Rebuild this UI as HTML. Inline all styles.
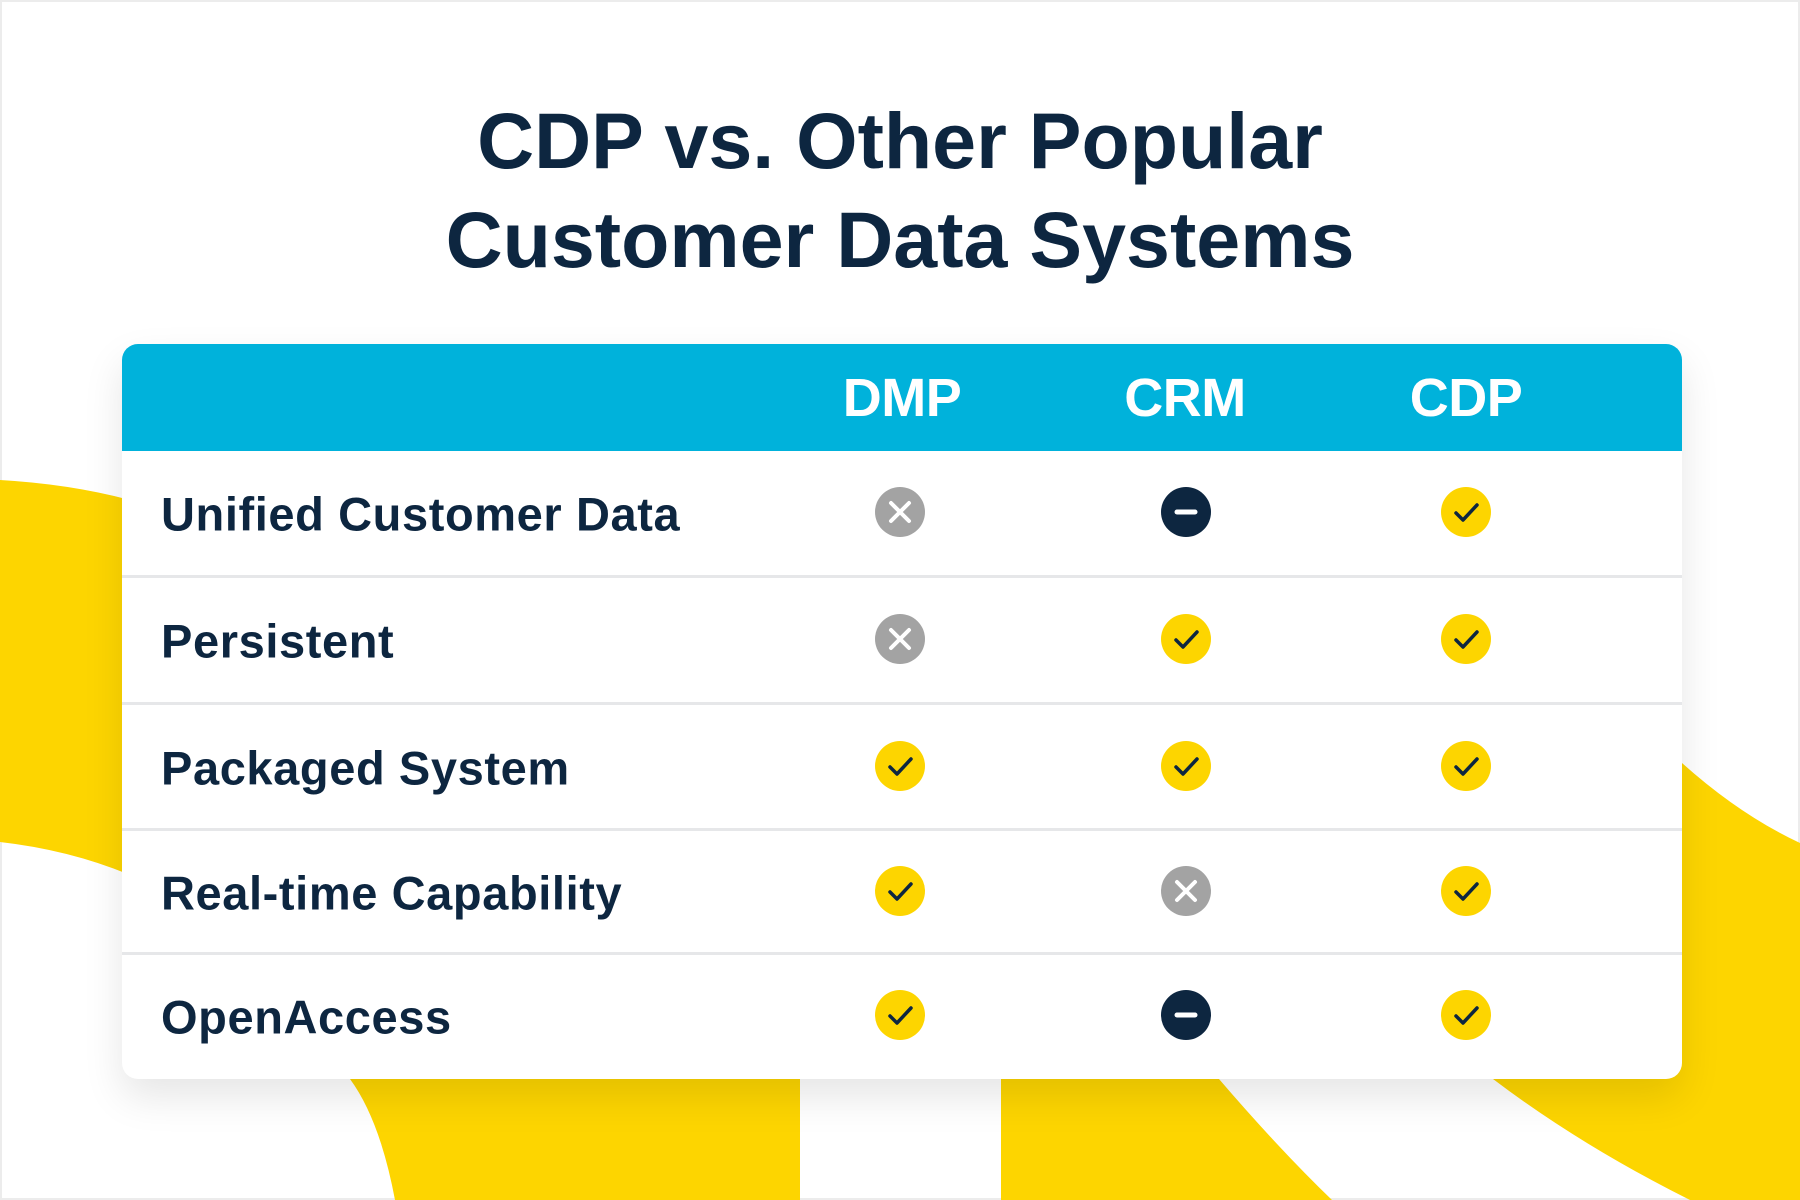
<!DOCTYPE html>
<html><head><meta charset="utf-8"><style>
html,body{margin:0;padding:0}
body{width:1800px;height:1200px;position:relative;overflow:hidden;background:#fff;font-family:"Liberation Sans",sans-serif;color:#0d2640}
.frame{position:absolute;left:0;top:0;width:1796px;height:1196px;border:2px solid #ececec}
.title{position:absolute;left:0;width:1800px;text-align:center;font-weight:bold;font-size:79px;letter-spacing:0px;line-height:1}
.card{position:absolute;left:122px;top:344px;width:1560px;height:735px;background:#fff;border-radius:16px;box-shadow:0 18px 40px rgba(0,0,0,0.10);overflow:hidden}
.head{position:absolute;left:0;top:0;width:1560px;height:107px;background:#00b2db}
.h{position:absolute;top:54px;transform:translate(-50%,-50%);color:#fff;font-size:54px;font-weight:bold;letter-spacing:-0.5px}
.sep{position:absolute;left:0;width:1560px;height:3px;background:#e6e7e9}
.lab{position:absolute;left:39px;transform:translateY(-50%);font-size:47px;font-weight:bold;letter-spacing:0.6px}
svg{display:block}
</style></head><body>
<div class="frame"></div>
<svg width="1800" height="1200" style="position:absolute;left:0;top:0">
<g fill="#fdd500">
<path d="M0 480 Q70 484 130 500 L130 875 Q70 850 0 842 Z"/>
<path d="M330 1060 L800 1060 L800 1200 L395 1200 Q380 1120 350 1079 Z"/>
<path d="M1001 1060 L1205 1060 L1219 1079 Q1280 1150 1332 1200 L1001 1200 Z"/>
<path d="M1682 763 Q1740 815 1800 843 L1800 1200 L1690 1200 Q1580 1145 1493 1079 L1493 1060 L1682 1060 Z"/>
</g>
</svg>
<div class="title" style="top:101px">CDP vs. Other Popular</div>
<div class="title" style="top:200px">Customer Data Systems</div>
<div class="card">
<div class="head"></div>
<div class="h" style="left:780px">DMP</div>
<div class="h" style="left:1063px">CRM</div>
<div class="h" style="left:1344px">CDP</div>
<div class="sep" style="top:231px"></div>
<div class="sep" style="top:358px"></div>
<div class="sep" style="top:484px"></div>
<div class="sep" style="top:608px"></div>
<div class="lab" style="top:170px">Unified Customer Data</div>
<div class="lab" style="top:297px">Persistent</div>
<div class="lab" style="top:424px">Packaged System</div>
<div class="lab" style="top:549px">Real-time Capability</div>
<div class="lab" style="top:673px">OpenAccess</div>
</div>
<svg width="1800" height="1200" style="position:absolute;left:0;top:0">
<defs>
<g id="chk"><circle r="25" fill="#fdd500"/><path d="M-10 1 L-3 8 L11 -7" stroke="#0d2640" stroke-width="3.5" fill="none" stroke-linecap="round" stroke-linejoin="round"/></g>
<g id="x"><circle r="25" fill="#a3a3a3"/><path d="M-9 -9 L9 9 M9 -9 L-9 9" stroke="#fff" stroke-width="4" stroke-linecap="round"/></g>
<g id="m"><circle r="25" fill="#0d2640"/><path d="M-9 0 L9 0" stroke="#fff" stroke-width="5" stroke-linecap="round"/></g>
</defs>
<use href="#x" x="900" y="512"/><use href="#m" x="1186" y="512"/><use href="#chk" x="1466" y="512"/>
<use href="#x" x="900" y="639"/><use href="#chk" x="1186" y="639"/><use href="#chk" x="1466" y="639"/>
<use href="#chk" x="900" y="766"/><use href="#chk" x="1186" y="766"/><use href="#chk" x="1466" y="766"/>
<use href="#chk" x="900" y="891"/><use href="#x" x="1186" y="891"/><use href="#chk" x="1466" y="891"/>
<use href="#chk" x="900" y="1015"/><use href="#m" x="1186" y="1015"/><use href="#chk" x="1466" y="1015"/>
</svg>
</body></html>
